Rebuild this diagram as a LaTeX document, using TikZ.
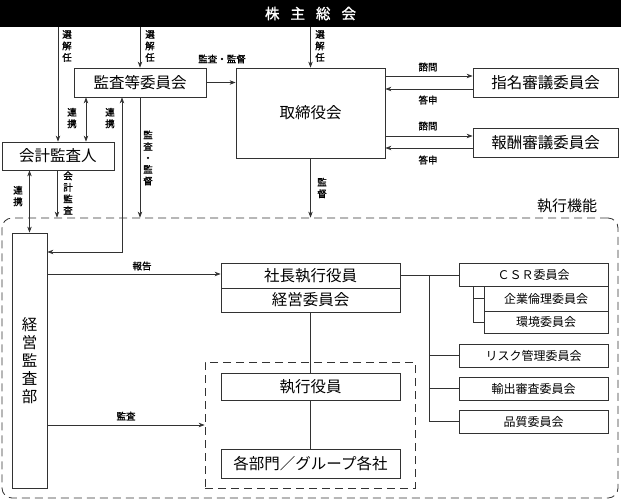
\documentclass[tikz,border=0pt]{standalone}
\usepackage{fontspec}
\setmainfont{Noto Sans CJK JP}
\newfontfamily\lblfont{Noto Sans CJK JP}[FakeBold=1.2]
\newfontfamily\ttlfont{Noto Sans CJK JP}[FakeBold=1.5]
\usetikzlibrary{arrows.meta}
\definecolor{ln}{RGB}{50,50,50}
\begin{document}
\begin{tikzpicture}[x=1pt,y=-1pt,
  box/.style={draw=ln, line width=0.8pt, inner sep=0pt, fill=white, font=\fontsize{15.5}{16}\selectfont},
  sbox/.style={draw=ln, line width=0.8pt, inner sep=0pt, font=\fontsize{12}{13}\selectfont},
  conn/.style={draw=ln, line width=0.7pt},
  arr/.style={conn, -{Stealth[length=6pt,width=4.5pt]}},
  arrb/.style={conn, {Stealth[length=6pt,width=4.5pt]}-{Stealth[length=6pt,width=4.5pt]}},
  lbl/.style={inner sep=0pt, font=\lblfont\fontsize{9.5}{11.5}\selectfont, align=center},
  dsh/.style={draw=ln, line width=0.8pt, dash pattern=on 8pt off 5pt}]
\useasboundingbox (0,0) rectangle (621,501);
% title bar
\node[fill=black, minimum width=621pt, minimum height=27pt, inner sep=0pt, text=white,
  font=\ttlfont\fontsize{14.5}{15}\selectfont] (bar) at (310.5,13.5)
  {株\hspace{11pt}主\hspace{11pt}総\hspace{11pt}会};
% outer dashed region
\node[dsh, rounded corners=10pt, minimum width=616pt, minimum height=280pt, inner sep=0pt] (exec) at (310,358) {};
\node[inner sep=0pt, font=\fontsize{15}{16}\selectfont] (execlbl) at (567,206) {執行機能};
% inner dashed region
\node[dsh, minimum width=210pt, minimum height=126pt, inner sep=0pt] (inner) at (310,425) {};
% boxes
\node[box, minimum width=132pt, minimum height=29pt] (kansa) at (140,82.5) {監査等委員会};
\node[box, minimum width=149pt, minimum height=90pt] (tori) at (310.5,113) {取締役会};
\node[box, minimum width=145pt, minimum height=29pt] (shimei) at (545.5,82.5) {指名審議委員会};
\node[box, minimum width=145pt, minimum height=29pt] (hoshu) at (545.5,142.5) {報酬審議委員会};
\node[box, minimum width=112pt, minimum height=28pt] (kaikei) at (58,156) {会計監査人};
\node[box, minimum width=35pt, minimum height=255pt, align=center, font=\fontsize{15.5}{18}\selectfont] (keiei) at (29.5,360.5) {経\\営\\監\\査\\部};
\node[box, minimum width=179pt, minimum height=25pt] (shacho) at (310.5,275.5) {社長執行役員};
\node[box, minimum width=179pt, minimum height=24pt] (iinkai) at (310.5,300) {経営委員会};
\node[box, minimum width=179pt, minimum height=27pt] (shikko) at (310.5,386.5) {執行役員};
\node[box, minimum width=179pt, minimum height=29pt] (bumon) at (310.5,463.5) {各部門／グループ各社};
% committees
\node[sbox, minimum width=149pt, minimum height=23pt] (csr) at (533.5,275) {ＣＳＲ委員会};
\node[sbox, minimum width=124pt, minimum height=25pt] (rinri) at (546,298.5) {企業倫理委員会};
\node[sbox, minimum width=124pt, minimum height=22pt] (kankyo) at (546,322) {環境委員会};
\node[sbox, minimum width=149pt, minimum height=23pt] (risk) at (533.5,355.5) {リスク管理委員会};
\node[sbox, minimum width=149pt, minimum height=23pt] (yushutsu) at (533.5,388.5) {輸出審査委員会};
\node[sbox, minimum width=149pt, minimum height=23pt] (hinshitsu) at (533.5,421.5) {品質委員会};
% coordinates
\coordinate (tx) at (429,0);
\coordinate (sx) at (473,0);
% connectors from top bar
\draw[arr] (bar.south -| kaikei.north) -- (kaikei.north);
\draw[arr] (bar.south -| kansa.north) -- (kansa.north);
\draw[arr] (bar.south -| tori.north) -- (tori.north);
% kansa -> tori
\draw[arr] (kansa.east) -- (kansa.east -| tori.west);
% tori <-> shimei / hoshu
\draw[arr] (tori.east |- 0,76) -- (shimei.west |- 0,76);
\draw[arr] (shimei.west |- 0,89) -- (tori.east |- 0,89);
\draw[arr] (tori.east |- 0,136) -- (hoshu.west |- 0,136);
\draw[arr] (hoshu.west |- 0,148) -- (tori.east |- 0,148);
% renkei kansa <-> kaikei
\draw[arrb] (kansa.south -| 86,0) -- (kaikei.north -| 86,0);
% renkei kansa <-> keiei
\draw[arrb] (kansa.south -| 122,0) |- (keiei.east |- 0,252);
% kansa -> exec
\draw[arr] (kansa.south) -- (kansa.south |- exec.north);
% tori -> exec
\draw[arr] (tori.south) -- (tori.south |- exec.north);
% kaikei -> exec
\draw[arr] (kaikei.south -| 57,0) -- (exec.north -| 57,0);
% kaikei <-> keiei
\draw[arrb] (kaikei.south -| keiei.north) -- (keiei.north);
% keiei -> shacho
\draw[arr] (keiei.east |- 0,274) -- (shacho.west |- 0,274);
% keiei -> inner
\draw[arr] (keiei.east |- 0,425) -- (inner.west |- 0,425);
% vertical chain
\draw[conn] (iinkai.south) -- (shikko.north);
\draw[conn] (shikko.south) -- (bumon.north);
% committee tree
\draw[conn] (shacho.east) -- (shacho.east -| csr.west);
\draw[conn] (shacho.east -| tx) |- (hinshitsu.west);
\draw[conn] (tx |- risk.west) -- (risk.west);
\draw[conn] (tx |- yushutsu.west) -- (yushutsu.west);
\draw[conn] (csr.south -| sx) |- (kankyo.west);
\draw[conn] (sx |- rinri.west) -- (rinri.west);
% labels
\node[lbl] (l1) at (67,46) {選\\解\\任};
\node[lbl] (l2) at (150,46) {選\\解\\任};
\node[lbl] (l3) at (320,46) {選\\解\\任};
\node[lbl] (l4) at (222,59) {監査・監督};
\node[lbl] (l5) at (428,67) {諮問};
\node[lbl] (l6) at (428,100) {答申};
\node[lbl] (l7) at (428,126) {諮問};
\node[lbl] (l8) at (428,160) {答申};
\node[lbl] (l9) at (72,118) {連\\携};
\node[lbl] (l10) at (110,118) {連\\携};
\node[lbl] (l11) at (148,158) {監\\査\\・\\監\\督};
\node[lbl] (l12) at (68,193) {会\\計\\監\\査};
\node[lbl] (l13) at (18,196) {連\\携};
\node[lbl] (l14) at (322,188) {監\\督};
\node[lbl] (l15) at (142,266) {報告};
\node[lbl] (l16) at (126,416) {監査};
\end{tikzpicture}
\end{document}
